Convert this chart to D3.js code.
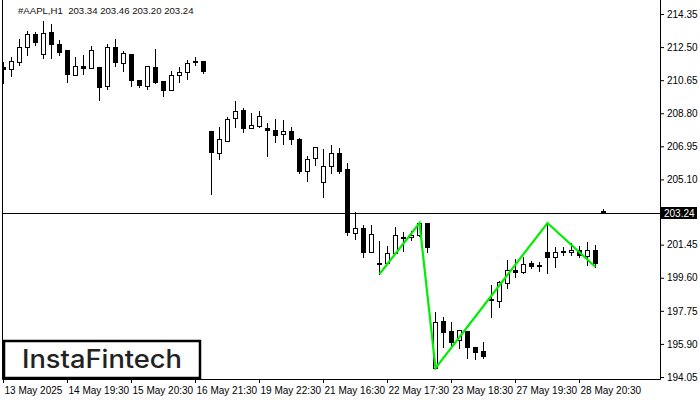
<!DOCTYPE html>
<html><head><meta charset="utf-8">
<script src="https://cdn.jsdelivr.net/npm/d3@7"></script>
<style>body{margin:0;background:#fff}svg{display:block}</style>
</head><body><svg id="c" width="700" height="400"></svg>
<script>
const opens=[211.39,211.28,211.67,212.51,213.23,212.12,213.35,212.68,212.34,210.94,211.44,211.33,211.39,210.33,212.51,211.61,212.12,210.66,210.33,211.39,210.61,210.10,210.94,211.11,211.72,211.72,
207.81,206.58,207.25,208.54,208.98,207.98,208.09,207.98,207.87,207.64,207.81,207.36,205.57,206.30,204.96,205.85,206.58,205.68,202.10,202.38,201.04,200.43,200.43,200.99,201.88,201.88,201.99,202.66,
194.55,197.18,196.62,196.12,196.62,195.73,195.51,198.41,198.30,199.31,200.03,199.92,200.43,200.31,201.04,200.76,201.10,201.04,201.15,200.82,201.15,203.34];
const highs=[211.67,211.95,212.95,213.40,213.35,213.96,213.79,212.90,212.34,211.95,212.06,212.56,211.39,212.68,212.95,212.28,212.12,210.66,211.44,212.40,210.61,211.17,211.39,211.78,211.95,211.72,
207.81,208.03,208.59,209.49,209.10,208.82,208.93,208.26,208.48,208.42,208.03,207.42,206.41,206.91,206.80,207.03,206.86,206.02,203.28,202.55,202.55,201.66,201.38,202.44,202.16,202.22,202.66,202.66,
197.69,197.41,197.13,196.68,196.62,195.73,196.01,199.20,199.42,200.59,200.65,200.76,200.54,200.48,202.66,201.32,201.32,201.55,201.38,201.60,201.43,203.46];
const lows=[210.49,210.89,211.50,212.06,212.62,211.89,211.89,212.06,210.55,210.94,211.00,211.33,209.54,210.16,211.44,211.17,210.33,210.27,210.16,210.49,209.77,210.10,210.55,210.72,211.50,211.05,
204.29,206.24,207.25,208.03,207.75,207.98,208.03,206.41,207.19,207.08,207.08,205.46,205.01,205.91,204.12,205.46,205.46,201.99,201.77,200.76,201.04,199.81,200.43,200.99,201.10,201.71,201.94,201.04,
194.55,195.73,195.73,195.67,195.11,195.06,195.11,197.41,197.97,199.03,199.64,199.87,200.15,199.98,199.87,200.20,200.87,200.87,200.76,200.31,200.20,203.20];
const closes=[211.28,211.72,212.51,213.23,212.79,213.29,212.68,212.23,211.00,211.44,211.33,212.34,210.27,212.51,211.67,212.17,210.66,210.38,211.44,210.55,210.10,210.94,211.11,211.61,211.67,211.17,
206.63,207.36,208.48,208.93,207.98,208.14,208.65,207.87,207.59,207.81,207.36,205.57,206.24,206.91,205.85,206.58,205.57,202.16,202.38,201.04,202.05,200.37,200.99,201.99,201.82,201.99,202.66,201.32,
197.13,196.57,196.01,196.68,195.73,195.45,195.23,198.36,199.36,200.03,199.92,200.37,200.26,200.26,200.76,201.04,201.04,201.15,200.87,201.15,200.43,203.24];
const tickIdx=[0,8,16,24,32,40,48,56,64,72];
const tickLabels=["13 May 2025","14 May 19:30","15 May 20:30","16 May 21:30","19 May 22:30","21 May 16:30","22 May 17:30","23 May 18:30","27 May 19:30","28 May 20:30"];
const priceTicks=[214.35,212.50,210.65,208.80,206.95,205.10,201.45,199.60,197.75,195.90,194.05];
const lastPrice=203.24;
const patternIdx=[47,52,54,68,74];
const patternPrice=[199.81,202.66,194.55,202.66,200.20];
const title="#AAPL,H1  203.34 203.46 203.20 203.24";
const logoText="InstaFintech";

const svg=d3.select("#c");
const FONT="'Liberation Sans', Arial, sans-serif";
const x=d3.scaleLinear().domain([0,75]).range([3,603]);
const y=d3.scaleLinear().domain([194.05,214.35]).range([377,14]);
const L=2.5,R=660.5,B=379.5;

svg.append("defs").append("clipPath").attr("id","pc").append("rect")
  .attr("x",L).attr("y",0).attr("width",R-L).attr("height",B);

// frame
svg.append("line").attr("x1",L).attr("x2",L).attr("y1",0).attr("y2",B).attr("stroke","#000");
svg.append("line").attr("x1",R).attr("x2",R).attr("y1",0).attr("y2",B).attr("stroke","#000");
svg.append("line").attr("x1",L).attr("x2",R).attr("y1",B).attr("y2",B).attr("stroke","#000");

const plot=svg.append("g").attr("clip-path","url(#pc)");
const yl=Math.round(y(lastPrice))+0.5;
plot.append("line").attr("x1",L).attr("x2",R).attr("y1",yl).attr("y2",yl).attr("stroke","#000");

const idx=d3.range(opens.length);
const g=plot.selectAll("g.c").data(idx).join("g");
g.append("line")
  .attr("x1",i=>Math.round(x(i))+0.5).attr("x2",i=>Math.round(x(i))+0.5)
  .attr("y1",i=>Math.round(y(highs[i]))).attr("y2",i=>Math.round(y(lows[i]))+1)
  .attr("stroke","#000");
g.append("rect")
  .attr("x",i=>Math.round(x(i))-1.5).attr("width",3+1)
  .attr("y",i=>Math.round(y(Math.max(opens[i],closes[i])))+0.5)
  .attr("height",i=>Math.max(0.001,Math.round(y(Math.min(opens[i],closes[i])))-Math.round(y(Math.max(opens[i],closes[i])))))
  .attr("fill",i=>closes[i]<opens[i]?"#000":"#fff")
  .attr("stroke","#000");

// pattern
const line=d3.line().x(d=>x(d[0])+0.5).y(d=>y(d[1]));
plot.append("path").datum(patternIdx.map((d,i)=>[d,patternPrice[i]]))
  .attr("d",line).attr("fill","none").attr("stroke","#00ee00").attr("stroke-width",2.2);

// price axis
const ya=d3.axisRight(y).tickValues(priceTicks).tickSize(4).tickPadding(3).tickFormat(d=>d.toFixed(2));
const yg=svg.append("g").attr("transform",`translate(${R-0.5},0)`).call(ya);
yg.select(".domain").remove();
yg.selectAll("text").attr("font-family",FONT).attr("font-size",10).attr("fill","#000");
yg.selectAll("line").attr("stroke","#000");
// last price label
svg.append("rect").attr("x",661).attr("y",yl-6.5).attr("width",36).attr("height",12).attr("fill","#000");
svg.append("text").attr("x",664).attr("y",yl+3.5).text(lastPrice.toFixed(2))
  .attr("font-family",FONT).attr("font-size",10).attr("fill","#fff");

// time axis
const xa=d3.axisBottom(x).tickValues(tickIdx).tickSize(4).tickPadding(4).tickFormat((d,i)=>tickLabels[i]);
const xg=svg.append("g").attr("transform",`translate(0,${B-0.5})`).call(xa);
xg.select(".domain").remove();
xg.selectAll("text").attr("font-family",FONT).attr("font-size",10).attr("fill","#000").attr("text-anchor","start").attr("x",1);
xg.selectAll("line").attr("stroke","#000");

// title
svg.append("text").attr("x",18).attr("y",14).text(title).attr("xml:space","preserve").style("white-space","pre")
  .attr("font-family",FONT).attr("font-size",9.6).attr("fill","#111");

// logo
svg.append("rect").attr("x",4).attr("y",341).attr("width",196).attr("height",37).attr("fill","#fff").attr("stroke","#000").attr("stroke-width",2.5);
svg.append("text").attr("x",22).attr("y",368).text(logoText).attr("font-family","Inter, 'Open Sans', sans-serif")
  .attr("font-size",25).attr("font-weight",500).attr("fill","#222").attr("textLength",160).attr("lengthAdjust","spacingAndGlyphs");
</script></body></html>
